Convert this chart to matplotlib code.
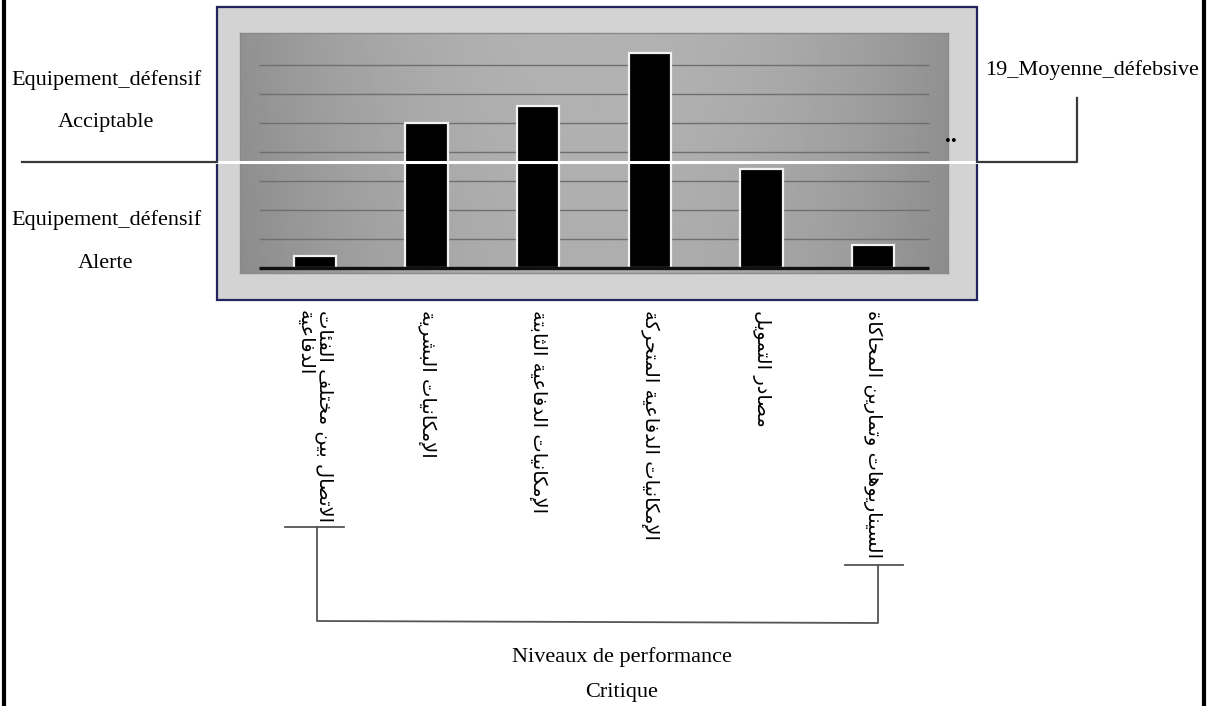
import numpy as np
import matplotlib
matplotlib.use('Agg')
import matplotlib.pyplot as plt
from matplotlib.patches import Rectangle
from matplotlib.transforms import blended_transform_factory

# values (one gridline = 5 units)
categories = [
  'الاتصال بين مختلف الفئات\nالدفاعية',
  'الإمكانيات البشرية',
  'الإمكانيات الدفاعية الثابتة',
  'الإمكانيات الدفاعية المتحركة',
  'مصادر التمويل',
  'السيناريوهات وتمارين المحاكاة',
]
values = [2, 25, 28, 37, 17, 4]
gridLevels = [5, 10, 15, 20, 25, 30, 35]
meanLevel = 18.3

leftLabels = ['Equipement_défensif', 'Acciptable', 'Equipement_défensif', 'Alerte']
meanLabel = '19_Moyenne_défebsive'
bottomLabels = ['Niveaux de performance', 'Critique']

W, H = 1211, 706
LATIN = 'Liberation Serif'

# small arabic shaper: matplotlib has no text shaping, so pick presentation forms by hand
FORMS = {
  'ء': (0xFE80, 1), 'آ': (0xFE81, 2), 'أ': (0xFE83, 2), 'ؤ': (0xFE85, 2), 'إ': (0xFE87, 2),
  'ئ': (0xFE89, 4), 'ا': (0xFE8D, 2), 'ب': (0xFE8F, 4), 'ة': (0xFE93, 2), 'ت': (0xFE95, 4),
  'ث': (0xFE99, 4), 'ج': (0xFE9D, 4), 'ح': (0xFEA1, 4), 'خ': (0xFEA5, 4), 'د': (0xFEA9, 2),
  'ذ': (0xFEAB, 2), 'ر': (0xFEAD, 2), 'ز': (0xFEAF, 2), 'س': (0xFEB1, 4), 'ش': (0xFEB5, 4),
  'ص': (0xFEB9, 4), 'ض': (0xFEBD, 4), 'ط': (0xFEC1, 4), 'ظ': (0xFEC5, 4), 'ع': (0xFEC9, 4),
  'غ': (0xFECD, 4), 'ف': (0xFED1, 4), 'ق': (0xFED5, 4), 'ك': (0xFED9, 4), 'ل': (0xFEDD, 4),
  'م': (0xFEE1, 4), 'ن': (0xFEE5, 4), 'ه': (0xFEE9, 4), 'و': (0xFEED, 2), 'ى': (0xFEEF, 2),
  'ي': (0xFEF1, 4),
}
LAM_ALEF = {'ا': 0xFEFB, 'أ': 0xFEF7, 'إ': 0xFEF9, 'آ': 0xFEF5}

def shape_line(text):
  out = []
  i = 0
  n = len(text)
  while i < n:
    ch = text[i]
    if ch not in FORMS:
      out.append(ch)
      i += 1
      continue
    prev = text[i-1] if i > 0 else ''
    joinPrev = prev in FORMS and FORMS[prev][1] == 4
    if ch == 'ل' and i + 1 < n and text[i+1] in LAM_ALEF:
      out.append(chr(LAM_ALEF[text[i+1]] + (1 if joinPrev else 0)))
      i += 2
      continue
    base, count = FORMS[ch]
    nxt = text[i+1] if i + 1 < n else ''
    joinNext = count == 4 and nxt in FORMS and FORMS[nxt][1] > 1
    if count == 1:
      joinPrev = False
    if joinPrev and joinNext:
      form = 3
    elif joinNext:
      form = 2
    elif joinPrev:
      form = 1
    else:
      form = 0
    out.append(chr(base + form))
    i += 1
  return ''.join(out[::-1])

def shape(text):
  return '\n'.join(shape_line(l) for l in text.split('\n'))

fig = plt.figure(figsize=(W/100, H/100), dpi=100)

# back layer: light panel with navy frame
bg = fig.add_axes([0, 0, 1, 1], zorder=0)
bg.set_xlim(0, W)
bg.set_ylim(H, 0)
bg.axis('off')
bg.add_patch(Rectangle((217, 7), 760, 293, facecolor='#d3d3d3', edgecolor='#23245e', lw=1.6))

# bar area
ax = fig.add_axes([240/W, (H-273)/H, 708/W, 240/H], zorder=1)
x = np.arange(len(values))
xlim = (-0.672, 5.672)
ylim = (-0.862, 40.5)
ax.set_xlim(*xlim)
ax.set_ylim(*ylim)

gx = np.linspace(-1, 1, 300)
gy = np.linspace(0, 1, 100)
GX, GY = np.meshgrid(gx, gy)
shade = 0.55 + 0.13 * (1 - GX**2) + 0.02 * GY
ax.imshow(shade, extent=(*xlim, *ylim), aspect='auto', cmap='gray', vmin=0, vmax=1,
          origin='lower', zorder=0)

ax.hlines(gridLevels, -0.5, 5.5, color='#6f6f6f', lw=1, zorder=1)
ax.bar(x, values, width=0.38, color='black', edgecolor='#f2f2f2', lw=1.6, zorder=2)
ax.hlines(0, -0.5, 5.5, color='#111111', lw=2.4, zorder=3)
for s in ax.spines.values():
  s.set_color('#8a8a8a')
  s.set_linewidth(1)
ax.set_xticks([])
ax.set_yticks([])

# front layer: lines and text in pixel coordinates
fr = fig.add_axes([0, 0, 1, 1], zorder=2)
fr.set_xlim(0, W)
fr.set_ylim(H, 0)
fr.axis('off')
fr.patch.set_alpha(0)

meanY = fr.transData.inverted().transform(ax.transData.transform((0, meanLevel)))[1]
lineColor = '#3a3a3a'
fr.plot([217, 977], [meanY, meanY], color='white', lw=2.2)
fr.plot([22, 217], [meanY, meanY], color=lineColor, lw=1.6)
fr.plot([977, 1077, 1077], [meanY, meanY, 98], color=lineColor, lw=1.6)
fr.text(951, 137, '..', fontsize=17, fontweight='bold', ha='center', va='center', family=LATIN)

leftY = [80, 123, 220, 263]
for lab, y in zip(leftLabels, leftY):
  fr.text(106, y, lab, fontsize=16, ha='center', va='center', family=LATIN)
fr.text(1092, 70, meanLabel, fontsize=16, ha='center', va='center', family=LATIN)

# arabic category labels under each bar, reading top to bottom
labTrans = blended_transform_factory(ax.transData, fr.transData)
for i, lab in enumerate(categories):
  fr.text(x[i], 310, shape(lab), transform=labTrans, rotation=-90, ha='center', va='top',
          multialignment='left', fontsize=14, family='DejaVu Sans', linespacing=1.0)

# bracket under the labels
brColor = '#555555'
fr.plot([285, 344], [527, 527], color=brColor, lw=1.3)
fr.plot([317, 317, 878, 878], [527, 621, 623, 565], color=brColor, lw=1.3)
fr.plot([845, 903], [565, 565], color=brColor, lw=1.3)
fr.text(622, 657, bottomLabels[0], fontsize=16, ha='center', va='center', family=LATIN)
fr.text(622, 692, bottomLabels[1], fontsize=16, ha='center', va='center', family=LATIN)

# page border
fr.plot([4, 4], [0, H], color='black', lw=3)
fr.plot([1204, 1204], [0, H], color='black', lw=3)

fig.savefig('out.png', dpi=100)
